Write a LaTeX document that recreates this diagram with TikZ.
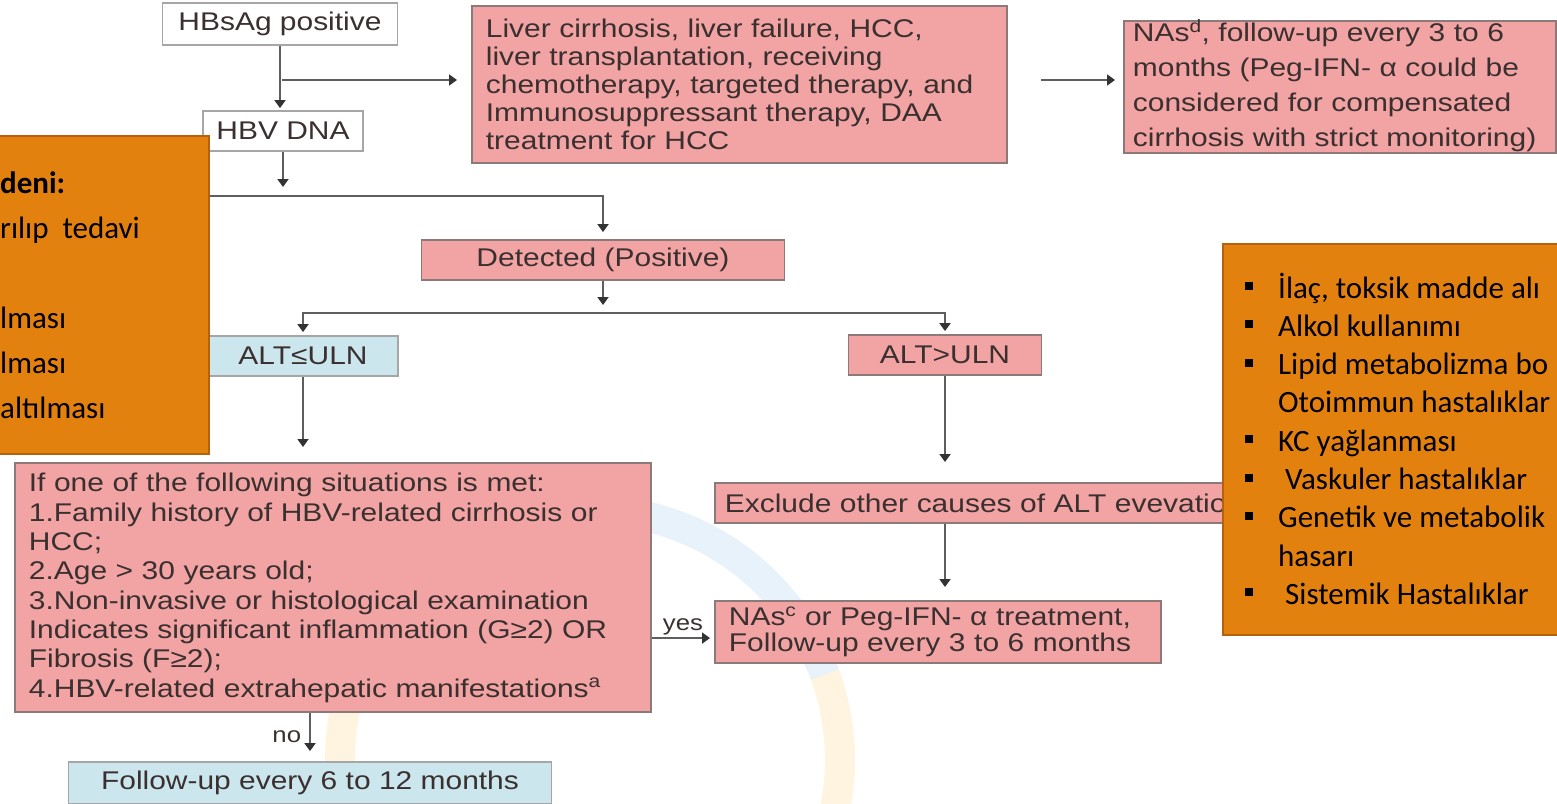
\documentclass[tikz,border=0pt]{standalone}
\usepackage{fontspec}
\setmainfont{Liberation Sans}[FakeStretch=1.17]
\newfontfamily\calibri{Carlito}
\usetikzlibrary{arrows.meta,positioning,calc}
\definecolor{pinkc}{HTML}{F2A3A3}
\definecolor{bluec}{HTML}{CCE6EE}
\definecolor{orangec}{HTML}{E3810F}
\definecolor{orangeedge}{HTML}{B4630C}
\definecolor{edgec}{HTML}{8C7A7A}
\definecolor{inkc}{HTML}{3A3030}
\definecolor{linec}{HTML}{5E5E5E}

\begin{document}
\begin{tikzpicture}[x=1pt, y=1pt,
    box/.style={draw=edgec, line width=1.8pt, text=inkc, inner sep=0pt,
      font=\fontsize{25.6}{25}\selectfont},
    whitebox/.style={box, fill=white, draw=gray!70},
    pinkbox/.style={box, fill=pinkc},
    bluebox/.style={box, fill=bluec, draw=gray!70},
    textbox/.style={align=left, anchor=north west, text height=19pt},
    note/.style={fill=orangec, draw=orangeedge, line width=1.5pt, inner sep=0pt},
    notetext/.style={font=\calibri\fontsize{31}{38}\selectfont, inner sep=0pt, anchor=base west},
    link/.style={draw=linec, line width=1.8pt},
    arr/.style={link, -{Triangle[length=8pt, width=11pt, color=black!80]}},
    tag/.style={font=\fontsize{22}{22}\selectfont, text=inkc, inner sep=2pt}]

    \useasboundingbox (0,0) rectangle (1557,-803);
    \clip (0,0) rectangle (1557,-803);

    % faint logo behind the chart
    \draw[line width=30pt, cyan!60!blue, opacity=.1] (590,-760) ++(160:250) arc (160:20:250);
    \draw[line width=30pt, orange!70!yellow, opacity=.12] (590,-760) ++(20:250) arc (20:-20:250);
    \draw[line width=30pt, orange!70!yellow, opacity=.12] (590,-760) ++(160:250) arc (160:200:250);

    \node[whitebox, minimum width=235pt, minimum height=42pt] (hbsag) at (280,-24) {HBsAg positive};
    \node[whitebox, minimum width=160pt, minimum height=40pt] (hbv) at (283,-131) {HBV DNA};
    \node[pinkbox, textbox, text width=507pt, inner xsep=14pt, inner ysep=13pt,
        font=\fontsize{25.6}{28}\selectfont] (liver) at (471,-5)
        {Liver cirrhosis, liver failure, HCC,\\
         liver transplantation, receiving\\
         chemotherapy, targeted therapy, and\\
         Immunosuppressant therapy, DAA\\
         treatment for HCC};
    \node[pinkbox, textbox, text width=414pt, inner xsep=9pt, inner ysep=1.5pt,
        font=\fontsize{25.6}{35}\selectfont] (nas1) at (1123,-20)
        {NAs\textsuperscript{d}, follow-up every 3 to 6\\
         months (Peg-IFN- α could be\\
         considered for compensated\\
         cirrhosis with strict monitoring)};
    \node[pinkbox, minimum width=363pt, minimum height=40pt] (detected) at (603,-260) {Detected (Positive)};
    \node[bluebox, minimum width=190pt, minimum height=40pt] (altle) at (303,-356) {ALT≤ULN};
    \node[pinkbox, minimum width=193pt, minimum height=40pt] (altgt) at (945,-355) {ALT>ULN};
    \node[pinkbox, textbox, text width=608pt, inner xsep=14pt, inner ysep=10pt,
        font=\fontsize{25.6}{29.3}\selectfont] (cond) at (14,-462)
        {If one of the following situations is met:\\
         1.Family history of HBV-related cirrhosis or\\
         HCC;\\
         2.Age > 30 years old;\\
         3.Non-invasive or histological examination\\
         Indicates significant inflammation (G≥2) OR\\
         Fibrosis (F≥2);\\
         4.HBV-related extrahepatic manifestations\textsuperscript{a}};
    \node[pinkbox, textbox, text width=520pt, inner xsep=10pt, inner ysep=10.5pt] (exclude) at (714,-482)
        {Exclude other causes of ALT evevatio};
    \node[pinkbox, textbox, text width=418pt, inner xsep=14pt, inner ysep=6pt,
        font=\fontsize{25.6}{26}\selectfont] (nas2) at (714,-600)
        {NAs\textsuperscript{c} or Peg-IFN- α treatment,\\
         Follow-up every 3 to 6 months};
    \node[bluebox, minimum width=483pt, minimum height=42pt] (fu) at (310,-783) {Follow-up every 6 to 12 months};

    \coordinate (branch) at (282,-80);
    \coordinate (split1) at (150,-196);
    \coordinate (split2) at (603,-313);
    \coordinate (yesend) at ([yshift=-6pt]nas2.west);

    \draw[arr, shorten >=2pt] (hbsag.south) -- (hbsag.south |- hbv.north);
    \draw[arr, shorten >=14pt] (branch) -- (branch -| liver.west);
    \draw[arr, shorten <=33pt, shorten >=8pt] (branch -| liver.east) -- (branch -| nas1.west);
    \draw[arr, shorten >=9pt] (hbv.south) -- (hbv.south |- split1);
    \draw[arr, shorten >=7pt] (split1) -| (detected.north);
    \draw[arr, shorten >=8pt] (detected.south) -- (split2);
    \draw[arr, shorten >=3pt] (split2) -| (altle.north);
    \draw[arr, shorten >=3pt] (split2) -| (altgt.north);
    \draw[arr, shorten >=15pt] (altle.south) -- (altle.south |- cond.north);
    \draw[arr, shorten >=20pt] (altgt.south) -- (altgt.south |- exclude.north);
    \draw[arr, shorten >=13pt] (altgt.south |- exclude.south) -- (altgt.south |- nas2.north);
    \draw[arr, shorten >=10pt] (fu.north |- cond.south) -- node[tag, left, xshift=-6pt] (no) {no} (fu.north);
    \draw[arr, shorten >=4pt] (yesend -| cond.east) -- node[tag, above] (yes) {yes} (yesend);

    % overlaid notes
    \node[note, anchor=north west, minimum width=218pt, minimum height=318pt] (reasons) at (-10,-135) {};
    \foreach \y/\t in {193/{\bfseries deni:}, 238/{rılıp\ \ tedavi}, 328/lması, 373/lması, 418/altılması}
        \node[notetext] (lt\y) at (0,-\y) {\t};

    \node[note, anchor=north west, minimum width=348pt, minimum height=391pt] (causes) at (1222,-243) {};
    \foreach \i/\t in {0/{İlaç, toksik madde alı}, 1/Alkol kullanımı, 2/Lipid metabolizma bo,
                       3/Otoimmun hastalıklar, 4/KC yağlanması, 5/\hspace*{7pt}Vaskuler hastalıklar,
                       6/Genetik ve metabolik, 7/hasarı, 8/\hspace*{7pt}Sistemik Hastalıklar}
        \node[notetext] (rt\i) at (1278,{-298-38.3*\i}) {\t};
    \foreach \i in {0,1,2,4,5,6,8}
        \fill (1245,{-290-38.3*\i}) rectangle ++(8,8);
\end{tikzpicture}
\end{document}
